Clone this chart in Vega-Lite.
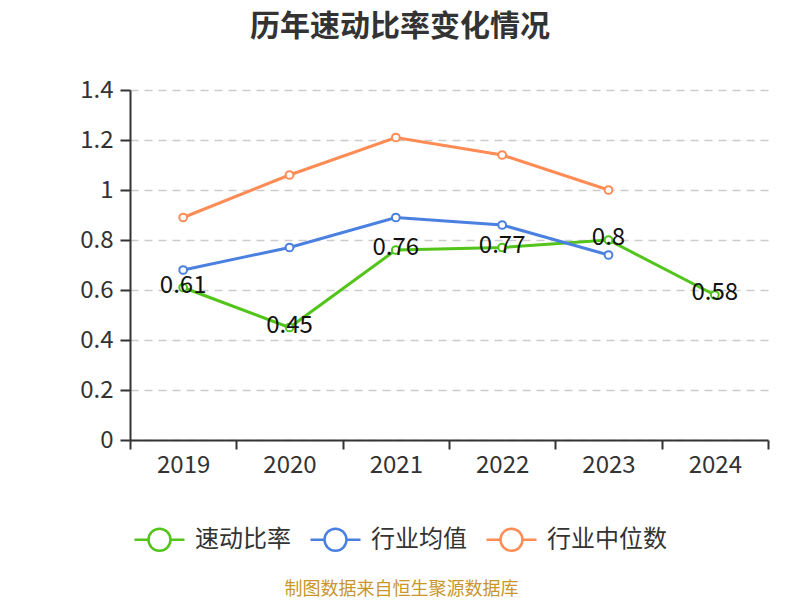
{
  "$schema": "https://vega.github.io/schema/vega-lite/v6.json",
  "width": 638,
  "height": 350,
  "autosize": {"type": "none"},
  "padding": {"left": 130, "top": 90, "right": 32, "bottom": 160},
  "background": "white",
  "title": {
    "text": "历年速动比率变化情况",
    "fontSize": 30,
    "fontWeight": "bold",
    "color": "#333333",
    "font": "Noto Sans CJK SC",
    "anchor": "middle",
    "frame": "group",
    "dx": -49,
    "offset": 36
  },
  "config": {
    "font": "Noto Sans CJK SC",
    "view": {"stroke": null}
  },
  "data": {
    "values": [
      {"year": "2019", "series": "速动比率", "value": 0.61},
      {"year": "2020", "series": "速动比率", "value": 0.45},
      {"year": "2021", "series": "速动比率", "value": 0.76},
      {"year": "2022", "series": "速动比率", "value": 0.77},
      {"year": "2023", "series": "速动比率", "value": 0.8},
      {"year": "2024", "series": "速动比率", "value": 0.58},
      {"year": "2019", "series": "行业均值", "value": 0.68},
      {"year": "2020", "series": "行业均值", "value": 0.77},
      {"year": "2021", "series": "行业均值", "value": 0.89},
      {"year": "2022", "series": "行业均值", "value": 0.86},
      {"year": "2023", "series": "行业均值", "value": 0.74},
      {"year": "2019", "series": "行业中位数", "value": 0.89},
      {"year": "2020", "series": "行业中位数", "value": 1.06},
      {"year": "2021", "series": "行业中位数", "value": 1.21},
      {"year": "2022", "series": "行业中位数", "value": 1.14},
      {"year": "2023", "series": "行业中位数", "value": 1.0}
    ]
  },
  "encoding": {
    "x": {
      "field": "year",
      "type": "nominal",
      "scale": {"paddingInner": 0, "paddingOuter": 0},
      "axis": {
        "title": "制图数据来自恒生聚源数据库",
        "titleColor": "#C9962B",
        "titleFontSize": 18,
        "titleFontWeight": "normal",
        "titleFont": "Noto Sans CJK SC",
        "titleX": 271,
        "titleY": 149,
        "titleAlign": "center",
        "titleBaseline": "middle",
        "titleAnchor": null,
        "labelAngle": 0,
        "labelFontSize": 24,
        "labelColor": "#333333",
        "labelPadding": 4,
        "tickBand": "extent",
        "tickSize": 9,
        "tickColor": "#333333",
        "tickWidth": 2,
        "domainColor": "#333333",
        "domainWidth": 2,
        "grid": false
      }
    },
    "y": {
      "field": "value",
      "type": "quantitative",
      "scale": {"domain": [0, 1.4]},
      "axis": {
        "title": null,
        "values": [0, 0.2, 0.4, 0.6, 0.8, 1, 1.2, 1.4],
        "format": "~g",
        "labelFontSize": 24,
        "labelColor": "#333333",
        "labelPadding": 7,
        "tickSize": 10,
        "tickColor": "#333333",
        "tickWidth": 2,
        "domainColor": "#333333",
        "domainWidth": 2,
        "grid": true,
        "gridColor": "#cccccc",
        "gridDash": [8, 6],
        "gridWidth": 1.5
      }
    }
  },
  "layer": [
    {
      "mark": {"type": "line", "strokeWidth": 3},
      "encoding": {
        "color": {
          "field": "series",
          "type": "nominal",
          "scale": {"domain": ["速动比率", "行业均值", "行业中位数"], "range": ["#52C41A", "#4A80E0", "#FF8C55"]},
          "legend": {
            "title": null,
            "orient": "none",
            "legendX": 3,
            "legendY": 423,
            "direction": "horizontal",
            "symbolType": "M-1,0H-0.44M0.44,0H1M-0.44,0A0.44,0.44,0,1,1,0.44,0A0.44,0.44,0,1,1,-0.44,0Z",
            "symbolSize": 2500,
            "symbolStrokeWidth": 2.5,
            "symbolFillColor": "white",
            "labelFontSize": 24,
            "labelColor": "#333333",
            "labelOffset": 9,
            "columnPadding": 14
          }
        }
      }
    },
    {
      "mark": {"type": "point", "shape": "circle", "filled": true, "fill": "white", "strokeWidth": 2, "size": 60, "opacity": 1},
      "encoding": {
        "stroke": {
          "field": "series",
          "type": "nominal",
          "scale": {"domain": ["速动比率", "行业均值", "行业中位数"], "range": ["#52C41A", "#4A80E0", "#FF8C55"]},
          "legend": null
        }
      }
    },
    {
      "transform": [{"filter": "datum.series === '速动比率'"}],
      "mark": {"type": "text", "fontSize": 24, "color": "#111111", "baseline": "middle", "align": "center", "dy": -2},
      "encoding": {
        "text": {"field": "value", "type": "quantitative", "format": "~g"}
      }
    }
  ]
}
